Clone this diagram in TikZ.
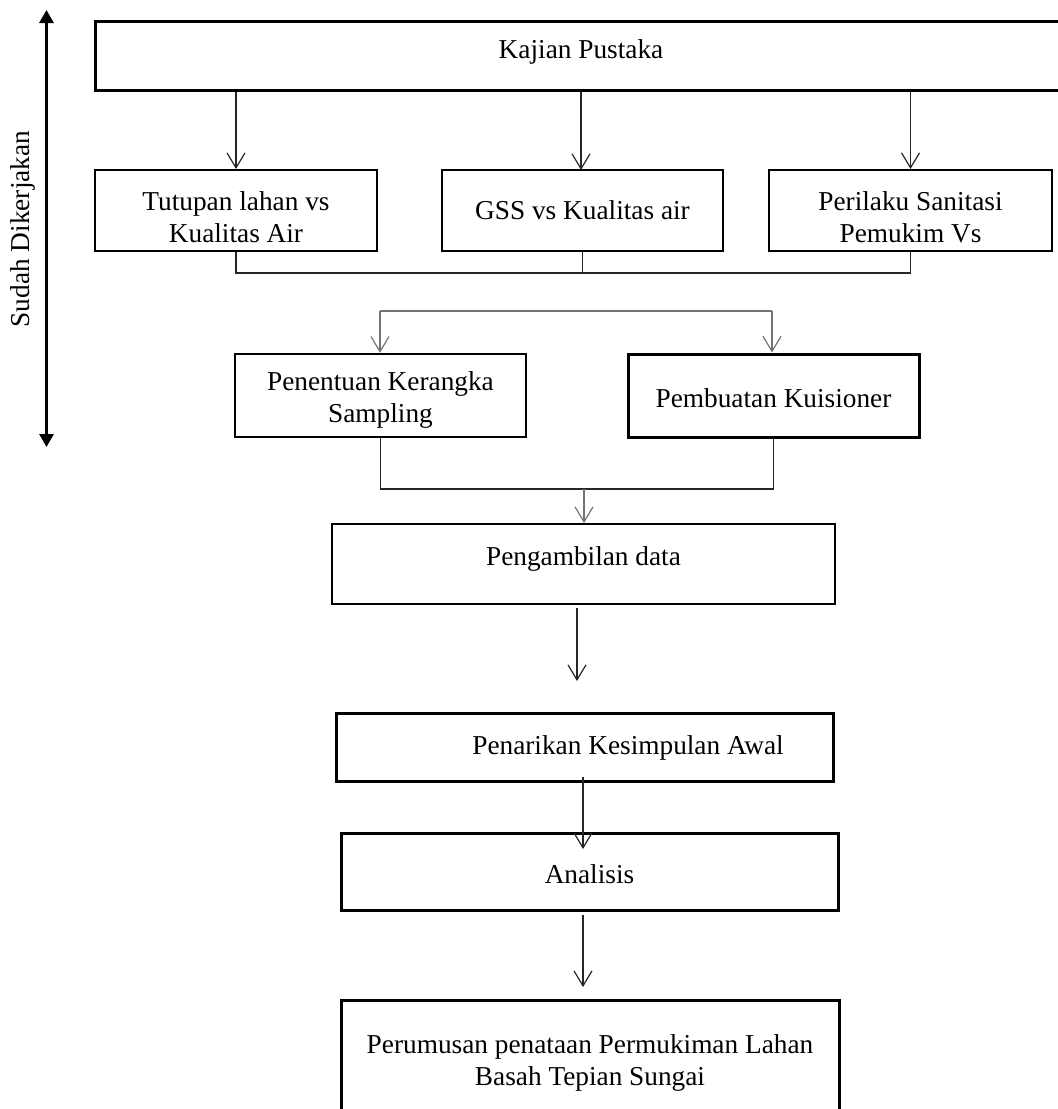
\documentclass[tikz,border=0pt]{standalone}
\usepackage{fontspec}
\setmainfont{Liberation Serif}
\usetikzlibrary{arrows.meta}
\begin{document}
\begin{tikzpicture}[x=1pt,y=-1pt,
  box/.style={draw=black,line width=2pt,minimum width=#1,inner sep=0pt,anchor=center},
  lbl/.style={inner sep=0pt,align=center,font=\fontsize{27.3}{32}\selectfont},
  arr/.style={draw=black!85,line width=1.2pt,-{Straight Barb[length=15pt,width=18pt,line width=1.2pt]}},
  garr/.style={arr,draw=black!55},
  lnk/.style={draw=black!85,line width=1.2pt}]
\useasboundingbox (0,0) rectangle (1058,1109);
% side arrow
\coordinate (sa) at (46.5,10);
\coordinate (sb) at (46.5,447);
\draw[line width=3pt,{Triangle[length=13pt,width=14pt]}-{Triangle[length=13pt,width=14pt]}] (sa) -- (sb);
\node[lbl,rotate=90] (side) at (23,229) {Sudah Dikerjakan};
% top box
\node[box,minimum width=972pt,minimum height=69pt,line width=3pt] (top) at (581,55.5) {};
\node[lbl] (topt) at (581,52) {Kajian Pustaka};
% row 2
\node[box,minimum width=282pt,minimum height=81pt] (b1) at (236,210.5) {};
\node[lbl] (b1t) at (236,217) {Tutupan lahan vs\\Kualitas Air};
\node[box,minimum width=281pt,minimum height=81pt,line width=2.4pt] (b2) at (582.5,210.5) {};
\node[lbl] (b2t) at (582.5,210) {GSS vs Kualitas air};
\node[box,minimum width=283pt,minimum height=81pt] (b3) at (910.5,210.5) {};
\node[lbl] (b3t) at (910.5,217) {Perilaku Sanitasi\\Pemukim Vs};
% row 3
\node[box,minimum width=291pt,minimum height=83pt,line width=2.4pt] (p1) at (380.5,395.5) {};
\node[lbl] (p1t) at (380.5,399.5) {Penentuan Kerangka\\Sampling};
\node[box,minimum width=291pt,minimum height=83pt,line width=3pt] (p2) at (773.5,395.5) {};
\node[lbl] (p2t) at (773.5,398) {Pembuatan Kuisioner};
% lower boxes
\node[box,minimum width=503pt,minimum height=80pt] (pg) at (583.5,564) {};
\node[lbl] (pgt) at (583.5,559) {Pengambilan data};
\node[box,minimum width=497pt,minimum height=68pt,line width=3pt] (pk) at (584.5,747) {};
\node[lbl] (pkt) at (628,748) {Penarikan Kesimpulan Awal};
\node[box,minimum width=497pt,minimum height=77pt,line width=3pt] (an) at (589.5,871.5) {};
\node[lbl] (ant) at (589.5,874) {Analisis};
\node[box,minimum width=498pt,minimum height=130pt,line width=3pt] (pr) at (590,1065) {};
\node[lbl] (prt) at (590,1063) {Perumusan penataan Permukiman Lahan\\Basah Tepian Sungai};
% top -> row 2
\draw[arr] (top.south -| b1.north) -- (b1.north);
\draw[arr] (top.south -| 581,0) -- (581,170);
\draw[arr] (top.south -| b3.north) -- (b3.north);
% row 2 bracket
\coordinate (j1) at (236,273);
\draw[lnk] (b1.south) |- (j1) -| (b3.south);
\draw[lnk] (b2.south) -- (b2.south |- j1);
% row 3 bracket with arrows
\coordinate (k1) at (380,311);
\coordinate (k2) at (772,311);
\draw[lnk,draw=black!55] (k1) -- (k2);
\draw[garr] (k1) -- (p1.north -| k1);
\draw[garr] (k2) -- (p2.north -| k2);
% row 3 -> pengambilan
\coordinate (j2) at (380,489);
\draw[lnk] (p1.south) |- (j2) -| (p2.south);
\draw[garr] (584,489) -- (pg.north -| 584,0);
% pengambilan -> penarikan
\coordinate (m1) at (577,608);
\coordinate (m2) at (577,681);
\draw[arr] (m1) -- (m2);
% penarikan -> analisis
\coordinate (n1) at (583,777);
\coordinate (n2) at (583,849);
\draw[arr] (n1) -- (n2);
% analisis -> perumusan
\coordinate (o1) at (583,915);
\coordinate (o2) at (583,987);
\draw[arr] (o1) -- (o2);
\end{tikzpicture}
\end{document}
